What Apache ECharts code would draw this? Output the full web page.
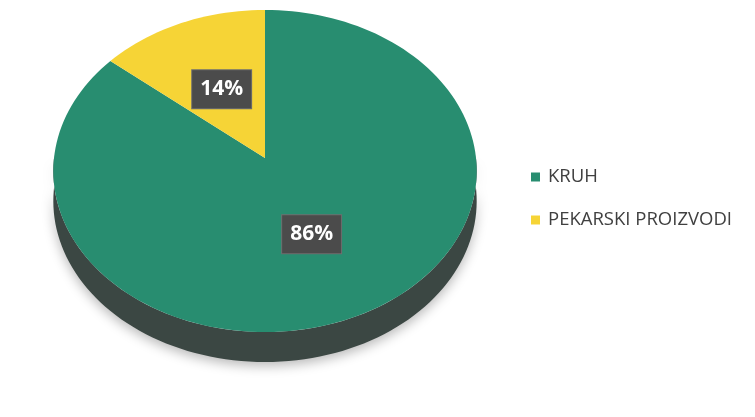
<!DOCTYPE html>
<html>
<head>
<meta charset="utf-8">
<script src="https://cdn.jsdelivr.net/npm/echarts@6/dist/echarts.min.js"></script>
<style>
  html, body { margin: 0; padding: 0; background: #ffffff; }
  #chart { width: 755px; height: 417px; }
</style>
</head>
<body>
<div id="chart"></div>
<script>
// Categories and their shares
const categories = ['KRUH', 'PEKARSKI PROIZVODI'];
const values = [86, 14];

// Colours of the top faces and of the rim
const topColors = ['#288d70', '#f6d436'];
const sideColors = ['#3b4743', '#8c7a26'];

// Tilted-disc geometry (pixels)
const CX = 265, CY = 158;   // projected pie centre
const RX = 211, RY = 160;   // radii before perspective
const PERSP = -0.0807;      // perspective factor along depth
const DEPTH = 30;           // rim thickness
const LABEL_R = 0.5;        // label distance as fraction of radius

const total = values.reduce((a, b) => a + b, 0);
const starts = values.map((v, i) => values.slice(0, i).reduce((a, b) => a + b, 0));

// angle measured clockwise from 12 o'clock, f = fraction of radius
function project(f, theta) {
  const u = f * Math.sin(theta);
  const v = -f * Math.cos(theta);
  const w = 1 + PERSP * v;
  return [CX + RX * u / w, CY + RY * v / w];
}

function arc(a0, a1, dy) {
  const n = Math.max(2, Math.ceil((a1 - a0) / (Math.PI / 90)));
  const pts = [];
  for (let j = 0; j <= n; j++) {
    const p = project(1, a0 + (a1 - a0) * j / n);
    pts.push([p[0], p[1] + dy]);
  }
  return pts;
}

function renderSlice(params, api) {
  const start = api.value(0);
  const val = api.value(1);
  const idx = params.seriesIndex;
  const a0 = start / total * Math.PI * 2;
  const a1 = (start + val) / total * Math.PI * 2;
  const children = [];

  // front rim: visible where the slice faces the viewer
  const s0 = Math.max(a0, Math.PI / 2 - 0.02);
  const s1 = Math.min(a1, Math.PI * 3 / 2 + 0.02);
  if (s1 > s0) {
    const top = arc(s0, s1, 0);
    const bottom = arc(s0, s1, DEPTH).reverse();
    children.push({
      type: 'polygon',
      shape: { points: top.concat(bottom) },
      style: {
        fill: sideColors[idx],
        shadowBlur: 12,
        shadowColor: 'rgba(0,0,0,0.28)',
        shadowOffsetY: 4
      }
    });
  }

  // top face
  children.push({
    type: 'polygon',
    shape: { points: [project(0, 0)].concat(arc(a0, a1, 0)) },
    style: { fill: topColors[idx] }
  });

  // value label
  const mid = (a0 + a1) / 2;
  const lp = project(LABEL_R, mid);
  children.push({
    type: 'text',
    x: lp[0],
    y: lp[1] + 1,
    z2: 10,
    style: {
      text: Math.round(val / total * 100) + '%',
      fill: '#ffffff',
      font: 'bold 21px "Open Sans", "DejaVu Sans", sans-serif',
      align: 'center',
      verticalAlign: 'middle',
      backgroundColor: '#4b4b4b',
      borderColor: '#6e6e6e',
      borderWidth: 1,
      padding: [9, 8, 8, 8]
    }
  });

  return { type: 'group', children: children };
}

const chart = echarts.init(document.getElementById('chart'), null, { renderer: 'canvas' });

chart.setOption({
  backgroundColor: '#ffffff',
  animation: false,
  legend: {
    data: categories,
    orient: 'vertical',
    left: 531,
    top: 167,
    padding: 0,
    icon: 'rect',
    itemWidth: 9,
    itemHeight: 9,
    itemGap: 23,
    textStyle: {
      color: '#404040',
      fontSize: 18.5,
      lineHeight: 20,
      fontFamily: '"Open Sans", sans-serif',
      padding: [0, 0, 0, 3]
    }
  },
  series: categories.map((name, i) => ({
    type: 'custom',
    name: name,
    coordinateSystem: 'none',
    itemStyle: { color: topColors[i] },
    renderItem: renderSlice,
    data: [[starts[i], values[i]]]
  }))
});
</script>
</body>
</html>
